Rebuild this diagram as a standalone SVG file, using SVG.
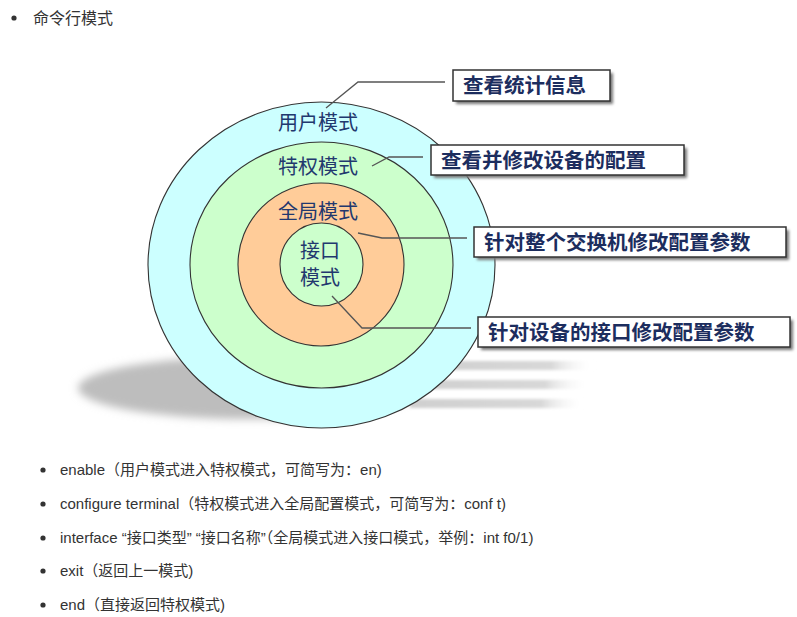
<svg xmlns="http://www.w3.org/2000/svg" width="797" height="617" viewBox="0 0 797 617">
<defs>
<filter id="blur" x="-20%" y="-50%" width="140%" height="200%"><feGaussianBlur stdDeviation="4"/></filter>
<filter id="bshadow" x="-10%" y="-30%" width="130%" height="180%"><feGaussianBlur stdDeviation="1.5"/></filter>
<linearGradient id="streak" x1="0" y1="0" x2="1" y2="0"><stop offset="0" stop-color="#cfcfcf"/><stop offset="0.75" stop-color="#d8d8d8"/><stop offset="1" stop-color="#ffffff" stop-opacity="0"/></linearGradient>
<style>
.page{font-family:"Liberation Sans","Noto Sans CJK SC",sans-serif;fill:#333;}
.ring{stroke:#333;stroke-width:1.1;}
.clabel{font-family:"Noto Sans CJK SC","Liberation Sans",sans-serif;font-size:20px;fill:#22386e;text-anchor:middle;}
.box{fill:#fff;stroke:#333;stroke-width:1.5;}
.boxsh{fill:#777;filter:url(#bshadow);}
.btext{font-family:"Noto Sans CJK SC","Liberation Sans",sans-serif;font-size:20.5px;font-weight:bold;fill:#1c2d5e;}
.conn{fill:none;stroke:#555;stroke-width:1.3;}
</style>
</defs>
<rect width="797" height="617" fill="#fff"/>
<g id="heading">
<circle cx="14" cy="18" r="2.6" fill="#333"/>
<text class="page" x="33" y="24" font-size="16">命令行模式</text>
</g>
<g id="shadow">
<ellipse cx="250" cy="388" rx="172" ry="31" fill="#bdbdbd" filter="url(#blur)"/>
<rect x="420" y="361" width="175" height="9" fill="url(#streak)" filter="url(#bshadow)"/>
<rect x="410" y="380" width="180" height="9" fill="url(#streak)" filter="url(#bshadow)"/>
<rect x="410" y="399" width="175" height="9" fill="url(#streak)" filter="url(#bshadow)"/>
</g>
<g id="user-mode">
<ellipse class="ring" cx="321.5" cy="265" rx="173.5" ry="163" fill="#ccffff"/>
<text class="clabel" x="318" y="130">用户模式</text>
</g>
<g id="priv-mode">
<ellipse class="ring" cx="321.5" cy="265" rx="131.5" ry="123" fill="#ccffcc"/>
<text class="clabel" x="318" y="174">特权模式</text>
</g>
<g id="global-mode">
<ellipse class="ring" cx="321" cy="264.5" rx="83" ry="81.5" fill="#ffcc99"/>
<text class="clabel" x="318" y="219">全局模式</text>
</g>
<g id="if-mode">
<ellipse class="ring" cx="321.5" cy="264.5" rx="41.5" ry="41.5" fill="#ccffcc"/>
<text class="clabel" x="320" y="258">接口</text>
<text class="clabel" x="320" y="285">模式</text>
</g>
<g id="connectors">
<polyline class="conn" points="326,108 358,82 445,82"/>
<polyline class="conn" points="372,166 389,157 423,157"/>
<polyline class="conn" points="358,233 382,238 467,238"/>
<polyline class="conn" points="332,296 362,328 471,328"/>
</g>
<g id="box1">
<rect class="boxsh" x="456" y="73" width="157" height="31"/>
<rect class="box" x="453" y="70" width="157" height="31"/>
<text class="btext" x="463" y="93">查看统计信息</text>
</g>
<g id="box2">
<rect class="boxsh" x="434" y="148" width="253" height="30"/>
<rect class="box" x="431" y="145" width="253" height="30"/>
<text class="btext" x="441" y="168">查看并修改设备的配置</text>
</g>
<g id="box3">
<rect class="boxsh" x="477" y="230" width="312" height="30"/>
<rect class="box" x="474" y="227" width="312" height="30"/>
<text class="btext" x="484" y="250">针对整个交换机修改配置参数</text>
</g>
<g id="box4">
<rect class="boxsh" x="481" y="320" width="312" height="30"/>
<rect class="box" x="478" y="317" width="312" height="30"/>
<text class="btext" x="488" y="340">针对设备的接口修改配置参数</text>
</g>
<g id="commands" class="page" font-size="15">
<circle cx="43" cy="470" r="2.6" fill="#333"/>
<text x="60" y="475">enable（用户模式进入特权模式，可简写为：en)</text>
<circle cx="43" cy="504" r="2.6" fill="#333"/>
<text x="60" y="509">configure terminal（特权模式进入全局配置模式，可简写为：conf t)</text>
<circle cx="43" cy="538" r="2.6" fill="#333"/>
<text x="60" y="543">interface “接口类型” “接口名称”（全局模式进入接口模式，举例：int f0/1)</text>
<circle cx="43" cy="571" r="2.6" fill="#333"/>
<text x="60" y="576">exit（返回上一模式)</text>
<circle cx="43" cy="605" r="2.6" fill="#333"/>
<text x="60" y="610">end（直接返回特权模式)</text>
</g>
</svg>
